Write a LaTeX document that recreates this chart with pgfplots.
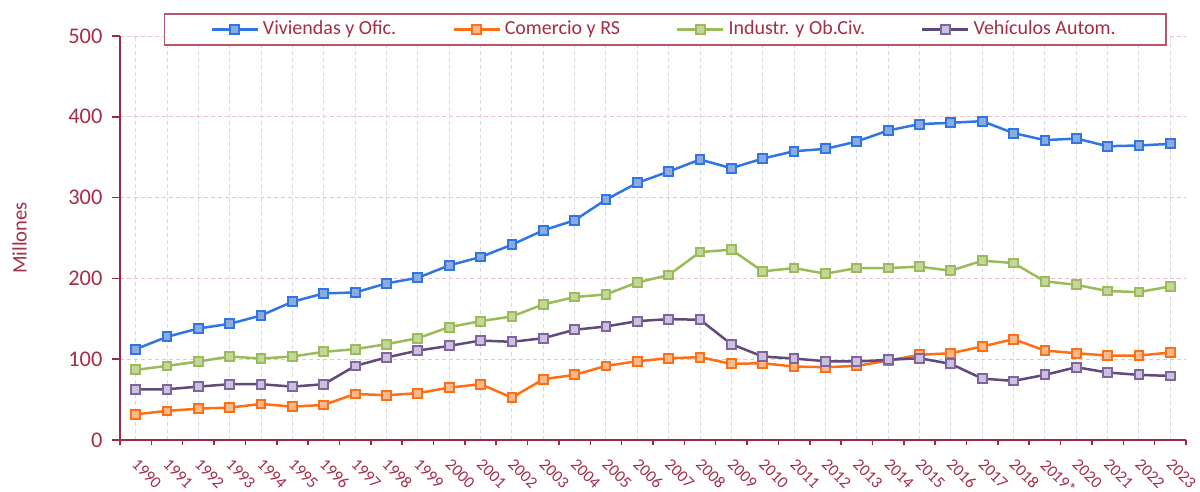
\documentclass[border=0pt]{standalone}
\usepackage{fontspec}
\setmainfont{Carlito}
\usepackage{pgfplots}
\usepackage{pgfplotstable}
\pgfplotsset{compat=1.18}
\definecolor{axred}{RGB}{160,40,64}
\definecolor{txtred}{RGB}{165,45,70}
\definecolor{legbord}{RGB}{185,85,105}
\definecolor{blueL}{RGB}{47,117,230}
\definecolor{blueF}{RGB}{140,170,220}
\definecolor{orL}{RGB}{255,110,20}
\definecolor{orF}{RGB}{248,185,140}
\definecolor{grL}{RGB}{155,187,89}
\definecolor{grF}{RGB}{195,214,155}
\definecolor{puL}{RGB}{96,74,123}
\definecolor{puM}{RGB}{128,100,162}
\definecolor{puF}{RGB}{204,192,218}
\definecolor{hgrid}{RGB}{240,190,205}
\definecolor{vgrid}{RGB}{215,215,232}
\pgfplotstableread{
x viv com ind veh
0 112.4 31.8 86.8 62.8
1 127.7 36.0 91.7 62.8
2 138.0 38.8 97.1 66.1
3 143.8 40.1 103.3 69.0
4 154.1 44.6 100.8 69.0
5 171.1 41.3 103.3 66.1
6 181.4 43.4 109.1 69.0
7 182.6 57.0 112.4 91.7
8 193.8 55.4 118.6 102.1
9 200.8 57.9 126.0 110.7
10 216.1 64.9 139.7 116.5
11 226.4 69.0 147.1 123.1
12 241.7 52.5 152.9 121.5
13 259.5 75.2 167.8 126.0
14 271.9 80.6 176.9 136.4
15 297.5 91.7 180.2 140.5
16 318.2 97.5 195.0 147.1
17 332.2 101.2 204.1 149.6
18 347.1 102.5 232.6 148.8
19 336.4 94.2 235.5 118.6
20 348.3 95.0 208.7 103.3
21 357.4 90.9 212.8 100.8
22 360.3 90.1 205.8 97.5
23 369.4 91.7 212.8 97.1
24 383.1 98.3 212.8 99.2
25 390.9 105.4 214.5 101.2
26 392.6 107.4 209.5 94.2
27 394.6 115.7 221.9 76.0
28 379.8 124.8 219.0 73.1
29 371.1 110.7 196.3 80.6
30 373.1 107.4 192.1 90.1
31 363.6 104.5 184.3 83.5
32 364.5 104.5 183.1 80.6
33 366.5 108.3 190.1 79.3
}\data
\begin{document}
\begin{tikzpicture}
\path[use as bounding box] (-60pt,-26pt) rectangle (540pt,220pt);
\begin{axis}[
  scale only axis, width=533pt, height=202pt,
  at={(0,0)}, anchor=south west,
  xmin=-0.5, xmax=33.5, ymin=0, ymax=500,
  axis lines*=left,
  axis line style={axred, line width=0.75pt},
  tick align=outside,
  major tick length=3.8pt, minor tick length=2.4pt,
  every tick/.style={axred, line width=0.75pt},
  xtick={0,...,33},
  xticklabels={1990,1991,1992,1993,1994,1995,1996,1997,1998,1999,2000,2001,2002,2003,2004,2005,2006,2007,2008,2009,2010,2011,2012,2013,2014,2015,2016,2017,2018,2019*,2020,2021,2022,2023},
  major x tick style={draw=none},
  minor xtick={-0.5,0.5,...,33.5},
  ytick={0,100,...,500},
  xmajorgrids, ymajorgrids,
  x grid style={vgrid, line width=0.5pt, dash pattern=on 2pt off 1.5pt},
  y grid style={hgrid, line width=0.5pt, dash pattern=on 2pt off 1.5pt},
  /pgf/number format/assume math mode=true,
  yticklabel style={font=\fontsize{11.2}{13}\selectfont, text=txtred, inner sep=0pt, anchor=east, xshift=-4.8pt},
  xticklabel style={font=\fontsize{8.3}{10}\selectfont, text=txtred, inner sep=0pt, xshift=1.5pt, yshift=-4.8pt, rotate=-45, anchor=north west},
  ylabel={Millones},
  ylabel style={font=\fontsize{10.3}{12}\selectfont, text=txtred, at={(axis description cs:-0.0942,0.5)}, anchor=center},
  legend columns=4,
  legend style={at={(axis description cs:0.5113,1.016)}, anchor=center, draw=legbord, line width=0.9pt, fill=white,
    font=\fontsize{10}{12}\selectfont, text=txtred, inner xsep=23pt, inner ysep=1.5pt,
    /tikz/every even column/.append style={column sep=26pt}},
  legend image code/.code={\draw[mark repeat=2,mark phase=2] plot coordinates {(0pt,0pt) (11.5pt,0pt) (23pt,0pt)};},
]
\addplot[blueL, line width=1.25pt, mark=square*, mark size=2.2pt, mark options={fill=blueF, draw=blueL, line width=1pt}] table[x=x, y=viv] {\data};
\addlegendentry{Viviendas y Ofic.}
\addplot[orL, line width=1.25pt, mark=square*, mark size=2.2pt, mark options={fill=orF, draw=orL, line width=1pt}] table[x=x, y=com] {\data};
\addlegendentry{Comercio y RS}
\addplot[grL, line width=1.25pt, mark=square*, mark size=2.2pt, mark options={fill=grF, draw=grL, line width=1pt}] table[x=x, y=ind] {\data};
\addlegendentry{Industr. y Ob.Civ.}
\addplot[puL, line width=1.25pt, mark=square*, mark size=2.2pt, mark options={fill=puF, draw=puM, line width=1pt}] table[x=x, y=veh] {\data};
\addlegendentry{Vehículos Autom.}
\end{axis}
\end{tikzpicture}
\end{document}
